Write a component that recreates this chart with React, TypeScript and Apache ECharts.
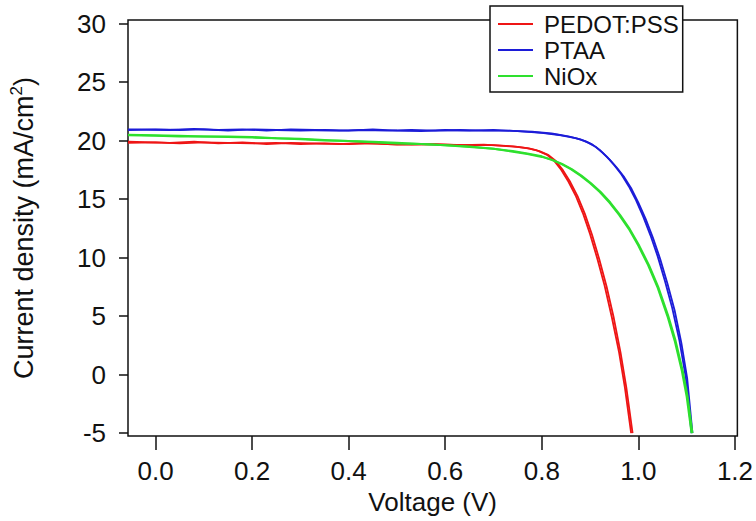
import React, { useEffect, useRef } from "react";
import * as echarts from "echarts";

// Legend / series names
const seriesNames = ["PEDOT:PSS", "PTAA", "NiOx"];

// Axis tick values
const xTicks = [0.0, 0.2, 0.4, 0.6, 0.8, 1.0, 1.2];
const yTicks = [-5, 0, 5, 10, 15, 20, 25, 30];

// J-V data [Voltage (V), Current density (mA/cm2)], two scans per device
const pedotScanA = [
  [-0.057, 19.8], [0.0, 19.85], [0.05, 19.75], [0.1, 19.85], [0.15, 19.8], [0.2, 19.75],
  [0.25, 19.8], [0.3, 19.7], [0.35, 19.75], [0.4, 19.7], [0.45, 19.75], [0.5, 19.65],
  [0.55, 19.7], [0.6, 19.65], [0.65, 19.6], [0.7, 19.6], [0.74, 19.5], [0.77, 19.35],
  [0.79, 19.15], [0.81, 18.8], [0.825, 18.3], [0.84, 17.5], [0.855, 16.5], [0.87, 15.3],
  [0.885, 13.8], [0.9, 12.0], [0.915, 9.9], [0.93, 7.6], [0.945, 4.9], [0.96, 1.9],
  [0.972, -1.1], [0.985, -5.0],
];
const pedotScanB = [
  [-0.057, 19.9], [0.03, 19.8], [0.08, 19.9], [0.13, 19.75], [0.18, 19.85], [0.23, 19.7],
  [0.28, 19.8], [0.33, 19.75], [0.38, 19.7], [0.43, 19.8], [0.48, 19.7], [0.53, 19.65],
  [0.58, 19.7], [0.63, 19.6], [0.68, 19.65], [0.72, 19.55], [0.75, 19.45], [0.775, 19.3],
  [0.795, 19.1], [0.814, 18.75], [0.829, 18.25], [0.844, 17.45], [0.859, 16.45], [0.874, 15.25],
  [0.889, 13.75], [0.904, 11.95], [0.919, 9.85], [0.934, 7.55], [0.949, 4.85], [0.963, 1.9],
  [0.975, -1.1], [0.988, -5.0],
];
const ptaaScanA = [
  [-0.057, 20.9], [0.0, 20.95], [0.05, 20.9], [0.1, 20.95], [0.15, 20.85], [0.2, 20.95],
  [0.25, 20.9], [0.3, 20.85], [0.35, 20.9], [0.4, 20.85], [0.45, 20.95], [0.5, 20.85],
  [0.55, 20.8], [0.6, 20.9], [0.65, 20.85], [0.7, 20.9], [0.75, 20.8], [0.8, 20.65],
  [0.84, 20.45], [0.87, 20.2], [0.89, 19.95], [0.905, 19.65], [0.92, 19.2], [0.935, 18.6],
  [0.95, 17.9], [0.965, 17.1], [0.98, 16.1], [0.995, 14.9], [1.01, 13.5], [1.025, 11.9],
  [1.04, 10.1], [1.055, 8.0], [1.07, 5.7], [1.085, 2.9], [1.098, -0.2], [1.11, -5.0],
];
const ptaaScanB = [
  [-0.057, 20.95], [0.03, 20.9], [0.08, 21.0], [0.13, 20.9], [0.18, 20.95], [0.23, 20.85],
  [0.28, 20.95], [0.33, 20.9], [0.38, 20.85], [0.43, 20.9], [0.48, 20.85], [0.53, 20.9],
  [0.58, 20.85], [0.63, 20.9], [0.68, 20.85], [0.73, 20.85], [0.78, 20.75], [0.82, 20.6],
  [0.855, 20.35], [0.88, 20.1], [0.897, 19.8], [0.912, 19.45], [0.926, 18.95], [0.941, 18.35],
  [0.956, 17.65], [0.971, 16.85], [0.986, 15.85], [1.0, 14.7], [1.015, 13.3], [1.03, 11.7],
  [1.045, 9.9], [1.06, 7.8], [1.075, 5.5], [1.089, 2.7], [1.101, -0.3], [1.112, -5.0],
];
const nioxScanA = [
  [-0.057, 20.45], [0.0, 20.4], [0.05, 20.35], [0.1, 20.35], [0.15, 20.3], [0.2, 20.25],
  [0.25, 20.2], [0.3, 20.1], [0.35, 20.0], [0.4, 19.95], [0.45, 19.85], [0.5, 19.75],
  [0.55, 19.7], [0.6, 19.6], [0.65, 19.45], [0.7, 19.3], [0.74, 19.05], [0.77, 18.85],
  [0.8, 18.6], [0.82, 18.35], [0.84, 18.0], [0.86, 17.55], [0.88, 17.0], [0.9, 16.35],
  [0.92, 15.6], [0.94, 14.7], [0.96, 13.65], [0.98, 12.45], [1.0, 11.0], [1.02, 9.35],
  [1.04, 7.4], [1.06, 5.0], [1.075, 2.9], [1.09, 0.3], [1.1, -1.9], [1.11, -5.0],
];
const nioxScanB = [
  [-0.057, 20.5], [0.05, 20.4], [0.1, 20.35], [0.15, 20.35], [0.2, 20.3], [0.25, 20.2],
  [0.3, 20.15], [0.35, 20.05], [0.4, 19.95], [0.45, 19.9], [0.5, 19.8], [0.55, 19.7],
  [0.6, 19.6], [0.65, 19.5], [0.7, 19.3], [0.74, 19.1], [0.77, 18.9], [0.8, 18.65],
  [0.822, 18.35], [0.842, 18.0], [0.862, 17.55], [0.882, 17.0], [0.902, 16.35], [0.922, 15.6],
  [0.942, 14.7], [0.962, 13.65], [0.982, 12.45], [1.002, 11.0], [1.022, 9.35], [1.042, 7.4],
  [1.062, 5.0], [1.077, 2.9], [1.092, 0.3], [1.102, -1.9], [1.112, -5.0],
];

const colors = { "PEDOT:PSS": "#ee1515", PTAA: "#1c1cd8", NiOx: "#2ee02e" };

const FONT = "'Liberation Sans', Arial, Helvetica, sans-serif";

export default function App() {
  const ref = useRef<HTMLDivElement>(null);

  useEffect(() => {
    if (!ref.current) return;
    const chart = echarts.init(ref.current, null, { renderer: "svg" });

    const mk = (name: string, data: number[][], width: number) => ({
      name,
      type: "line",
      data,
      showSymbol: false,
      symbol: "none",
      smooth: false,
      lineStyle: { color: colors[name as keyof typeof colors], width },
      itemStyle: { color: colors[name as keyof typeof colors] },
      z: 3,
    });

    chart.setOption({
      animation: false,
      backgroundColor: "#ffffff",
      textStyle: { fontFamily: FONT },
      grid: {
        left: 120,
        right: 16,
        top: 20,
        bottom: 85,
        show: true,
        borderColor: "#111",
        borderWidth: 1.5,
        backgroundColor: "transparent",
      },
      legend: {
        data: seriesNames,
        orient: "vertical",
        left: 490,
        top: 6,
        icon: "rect",
        itemWidth: 35,
        itemHeight: 2,
        itemGap: 2,
        padding: [6, 4, 4, 8],
        backgroundColor: "#fff",
        borderColor: "#111",
        borderWidth: 1.5,
        textStyle: { fontFamily: FONT, fontSize: 24, color: "#111", padding: [0, 0, 0, 6] },
        z: 10,
      },
      xAxis: {
        type: "value",
        min: -0.057,
        max: 1.205,
        name: "Voltage (V)",
        nameLocation: "middle",
        nameGap: 52,
        nameTextStyle: { fontFamily: FONT, fontSize: 26, color: "#111" },
        axisLine: { show: false, onZero: false },
        axisTick: {
          show: true,
          inside: false,
          length: 14,
          customValues: xTicks,
          lineStyle: { color: "#111", width: 1.5 },
        },
        axisLabel: {
          customValues: xTicks,
          margin: 22,
          fontFamily: FONT,
          fontSize: 26,
          color: "#111",
          formatter: (v: number) => v.toFixed(1),
        },
        splitLine: { show: false },
      },
      yAxis: {
        type: "value",
        min: -5.25,
        max: 30.3,
        name: "Current density (mA/cm{sup|2})",
        nameLocation: "middle",
        nameGap: 89,
        nameRotate: 90,
        nameTextStyle: {
          fontFamily: FONT,
          fontSize: 27,
          color: "#111",
          rich: {
            sup: { fontFamily: FONT, fontSize: 17, color: "#111", padding: [0, 0, 14, 0] },
          },
        },
        axisLine: { show: false, onZero: false },
        axisTick: {
          show: true,
          inside: false,
          length: 9,
          customValues: yTicks,
          lineStyle: { color: "#111", width: 1.5 },
        },
        axisLabel: {
          customValues: yTicks,
          margin: 22,
          fontFamily: FONT,
          fontSize: 26,
          color: "#111",
        },
        splitLine: { show: false },
      },
      series: [
        mk("PEDOT:PSS", pedotScanA, 1.8),
        mk("PEDOT:PSS", pedotScanB, 1.8),
        mk("PTAA", ptaaScanA, 1.8),
        mk("PTAA", ptaaScanB, 1.8),
        mk("NiOx", nioxScanA, 2),
        mk("NiOx", nioxScanB, 2),
      ],
    });

    return () => chart.dispose();
  }, []);

  return <div ref={ref} style={{ width: 756, height: 521, position: "absolute", left: 0, top: 0 }} />;
}
